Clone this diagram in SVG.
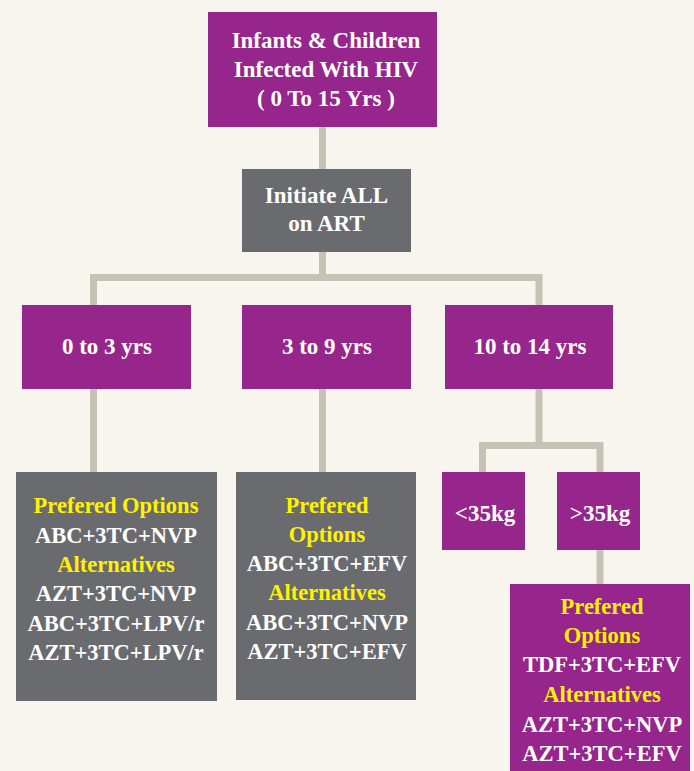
<svg xmlns="http://www.w3.org/2000/svg" width="694" height="771" viewBox="0 0 694 771">
<style>
.bg{fill:#f8f5ee}
.p{fill:#96268b}
.g{fill:#6a6b6f}
.c{fill:none;stroke:#c6c3b6;stroke-width:7;stroke-linejoin:miter}
text{font-family:"Liberation Serif","Times New Roman",serif;font-weight:bold;font-size:22.5px;text-anchor:middle}
.big{font-size:23px}
.w{fill:#ffffff}
.y{fill:#fff200}
</style>
<rect class="bg" x="0" y="0" width="694" height="771"/>
<g id="connectors">
<path class="c" d="M322.5,127 V169"/>
<path class="c" d="M322.5,252 V277.5"/>
<path class="c" d="M93.5,305 V277.5 H539 V305"/>
<path class="c" d="M93.5,389 V472"/>
<path class="c" d="M322.5,389 V472"/>
<path class="c" d="M539,389 V445.5"/>
<path class="c" d="M482.5,472 V445.5 H600 V472"/>
<path class="c" d="M600,550 V584"/>
</g>
<g id="root">
<rect class="p" x="208" y="12" width="229" height="115"/>
<text class="w big" x="326" y="48">Infants &amp; Children</text>
<text class="w big" x="326" y="77">Infected With HIV</text>
<text class="w big" x="326" y="106">( 0 To 15 Yrs )</text>
</g>
<g id="initiate">
<rect class="g" x="242" y="169" width="169" height="83"/>
<text class="w big" x="326.5" y="203">Initiate ALL</text>
<text class="w big" x="326.5" y="231">on ART</text>
</g>
<g id="age0to3">
<rect class="p" x="22" y="305" width="169" height="84"/>
<text class="w big" x="107" y="354">0 to 3 yrs</text>
</g>
<g id="age3to9">
<rect class="p" x="242" y="305" width="169" height="84"/>
<text class="w big" x="327" y="354">3 to 9 yrs</text>
</g>
<g id="age10to14">
<rect class="p" x="445" y="305" width="168" height="84"/>
<text class="w big" x="530" y="354">10 to 14 yrs</text>
</g>
<g id="under35">
<rect class="p" x="442" y="472" width="83" height="78"/>
<text class="w big" x="485" y="521">&lt;35kg</text>
</g>
<g id="over35">
<rect class="p" x="557" y="472" width="83" height="78"/>
<text class="w big" x="600" y="521">&gt;35kg</text>
</g>
<g id="options0to3">
<rect class="g" x="16" y="472" width="201" height="229"/>
<text class="y" x="116" y="513">Prefered Options</text>
<text class="w" x="116" y="542.5">ABC+3TC+NVP</text>
<text class="y" x="116" y="572">Alternatives</text>
<text class="w" x="116" y="601">AZT+3TC+NVP</text>
<text class="w" x="116" y="630.5">ABC+3TC+LPV/r</text>
<text class="w" x="116" y="660">AZT+3TC+LPV/r</text>
</g>
<g id="options3to9">
<rect class="g" x="236" y="472" width="180" height="228"/>
<text class="y" x="327" y="513">Prefered</text>
<text class="y" x="327" y="542">Options</text>
<text class="w" x="327" y="571">ABC+3TC+EFV</text>
<text class="y" x="327" y="600">Alternatives</text>
<text class="w" x="327" y="630">ABC+3TC+NVP</text>
<text class="w" x="327" y="659">AZT+3TC+EFV</text>
</g>
<g id="optionsOver35">
<rect class="p" x="510" y="584" width="180" height="187"/>
<text class="y" x="602" y="614">Prefered</text>
<text class="y" x="602" y="643">Options</text>
<text class="w" x="602" y="672">TDF+3TC+EFV</text>
<text class="y" x="602" y="702">Alternatives</text>
<text class="w" x="602" y="732">AZT+3TC+NVP</text>
<text class="w" x="602" y="761">AZT+3TC+EFV</text>
</g>
</svg>
